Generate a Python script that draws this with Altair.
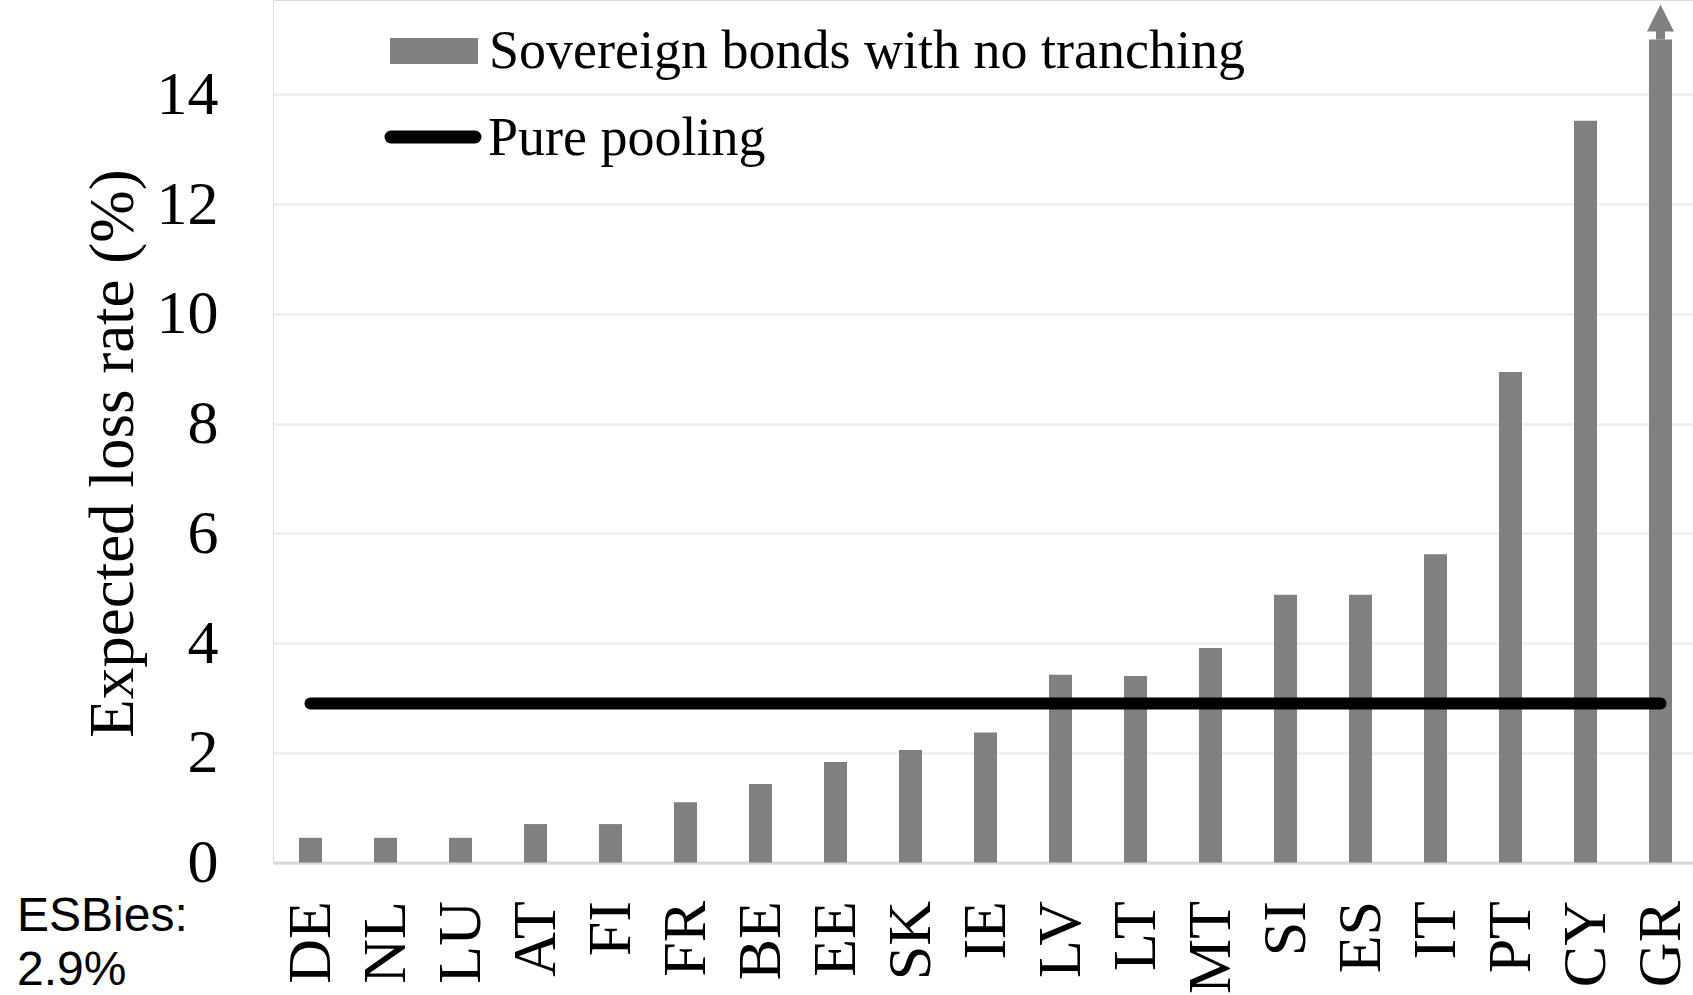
import altair as alt
import pandas as pd

# Expected loss rates by euro-area sovereign (%), sorted from safest to riskiest
countries = ["DE", "NL", "LU", "AT", "FI", "FR", "BE", "EE", "SK", "IE",
             "LV", "LT", "MT", "SI", "ES", "IT", "PT", "CY", "GR"]
loss_rates = [0.45, 0.45, 0.45, 0.70, 0.70, 1.10, 1.43, 1.83, 2.05, 2.37,
              3.42, 3.40, 3.91, 4.88, 4.88, 5.62, 8.94, 13.52, 15.0]
# Greece is cut off at the top of the axis and flagged with an arrow
capped = ["GR"]

# Expected loss of a pure pool of all sovereigns (= ESBies)
pool_rate = 2.9

legend_labels = ["Sovereign bonds with no tranching", "Pure pooling"]
y_ticks = [0, 2, 4, 6, 8, 10, 12, 14]

BAR_GREY = "#808080"
SERIF = "Liberation Serif"
SANS = "Liberation Sans"

W, H = 1420, 862.5
Y_MAX = 15.72

bars_df = pd.DataFrame({"country": countries, "rate": loss_rates})
pool_df = pd.DataFrame({"start": [countries[0]], "end": [countries[-1]], "rate": [pool_rate]})
arrow_df = bars_df[bars_df["country"].isin(capped)]

x_scale = alt.Scale(domain=countries, range=[0, 1425], paddingInner=0, paddingOuter=0)
y_scale = alt.Scale(domain=[0, Y_MAX], nice=False, zero=True)

x_axis = alt.Axis(labelAngle=-90, labelFont=SERIF, labelFontSize=62,
                  labelColor="black", labelPadding=38, ticks=False,
                  domain=True, domainColor="#d9d9d9", domainWidth=3, grid=False,
                  labelAlign="right", labelBaseline="middle")
y_axis = alt.Axis(values=y_ticks, labelFont=SERIF, labelFontSize=62,
                  labelColor="black", labelPadding=55, ticks=False,
                  domain=False, domainOpacity=0, domainColor="transparent",
                  gridColor="#eeeeee", gridWidth=2.5,
                  titleFont=SERIF, titleFontSize=63, titleFontWeight="normal",
                  titleColor="black", titleAngle=-90, titleX=-160, titleY=453,
                  titleAlign="center", titleBaseline="middle")
Y_TITLE = "Expected loss rate (%)"

bars = alt.Chart(bars_df).mark_bar(size=23, color=BAR_GREY).encode(
    x=alt.X("country:N", scale=x_scale, title=None, axis=x_axis),
    y=alt.Y("rate:Q", scale=y_scale, title=Y_TITLE, axis=y_axis),
)

# Arrow on top of the truncated bar
arrow_path = "M0,-1L0.771,0.543H0.257V1H-0.257V0.543H-0.771Z"
arrow = alt.Chart(arrow_df).mark_point(
    shape=arrow_path, size=1225, filled=True, color=BAR_GREY, opacity=1, yOffset=-17.5
).encode(
    x=alt.X("country:N", scale=x_scale, title=None, axis=x_axis),
    y=alt.Y("rate:Q", scale=y_scale, title=Y_TITLE, axis=y_axis),
)

pool_line = alt.Chart(pool_df).mark_rule(
    color="black", strokeWidth=12, strokeCap="round"
).encode(
    x=alt.X("start:N", scale=x_scale, title=None, axis=x_axis),
    x2="end:N",
    y=alt.Y("rate:Q", scale=y_scale, title=Y_TITLE, axis=y_axis),
)

# Legend drawn by hand in the upper-left of the plot
leg_rect = alt.Chart(pd.DataFrame({"k": [0]})).mark_rect(color=BAR_GREY).encode(
    x=alt.value(117), x2=alt.value(205), y=alt.value(38), y2=alt.value(64)
)
leg_line = alt.Chart(pd.DataFrame({"k": [0]})).mark_rule(
    color="black", strokeWidth=13, strokeCap="round"
).encode(x=alt.value(118), x2=alt.value(202), y=alt.value(137))
leg_text1 = alt.Chart(pd.DataFrame({"t": [legend_labels[0]]})).mark_text(
    font=SERIF, fontSize=54, align="left", baseline="alphabetic", color="black"
).encode(x=alt.value(216), y=alt.value(67.5), text="t:N")
leg_text2 = alt.Chart(pd.DataFrame({"t": [legend_labels[1]]})).mark_text(
    font=SERIF, fontSize=54, align="left", baseline="alphabetic", color="black"
).encode(x=alt.value(215), y=alt.value(155), text="t:N")

esbies = alt.Chart(pd.DataFrame({"t": [f"ESBies:\n{pool_rate:.1f}%"]})).mark_text(
    font=SANS, fontSize=48, align="left", baseline="alphabetic", color="black",
    lineBreak="\n", lineHeight=54
).encode(x=alt.value(-256), y=alt.value(931), text="t:N")

chart = alt.layer(
    bars, arrow, pool_line, leg_rect, leg_line, leg_text1, leg_text2, esbies
).properties(
    width=W, height=H,
    autosize=alt.AutoSizeParams(type="none"),
    padding={"left": 273, "top": 0, "right": 0, "bottom": 132.5},
).configure_view(
    stroke="transparent", strokeOpacity=0, strokeWidth=0
).configure_axis(domain=False, ticks=False).configure_axisLeft(
    domain=False, domainOpacity=0
).configure_axisX(ticks=False, grid=False).configure(background="white")

chart.save("out.html", embed_options={"renderer": "svg", "actions": False})
